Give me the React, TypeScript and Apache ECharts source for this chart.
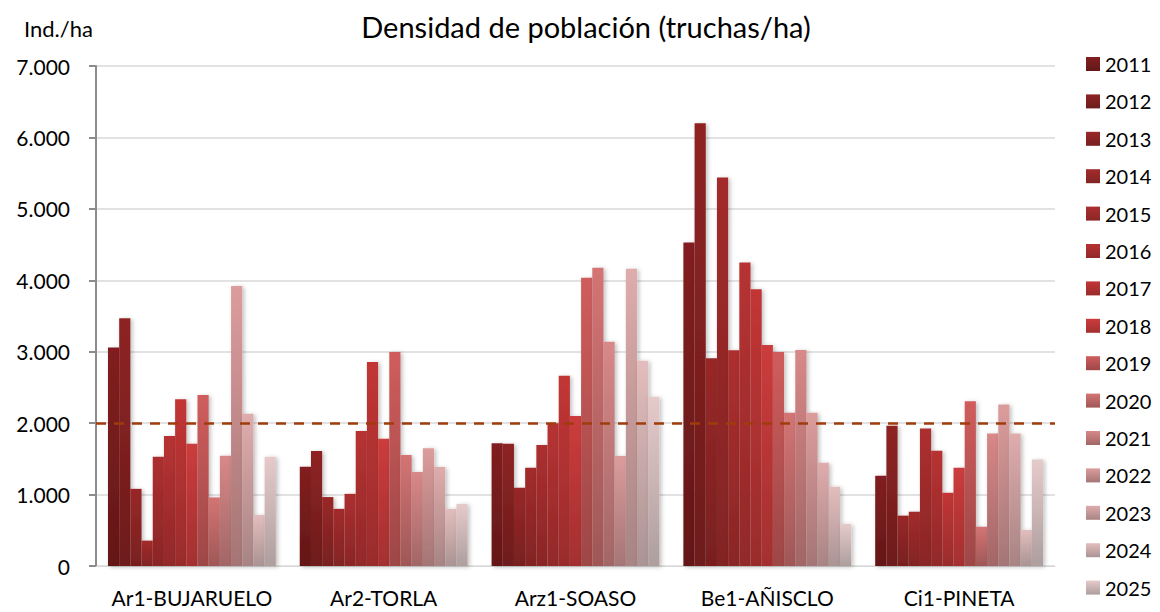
import React, { useEffect, useRef } from "react";
import * as echarts from "echarts";

const categories = ["Ar1-BUJARUELO", "Ar2-TORLA", "Arz1-SOASO", "Be1-AÑISCLO", "Ci1-PINETA"];
const years = ["2011", "2012", "2013", "2014", "2015", "2016", "2017", "2018", "2019", "2020", "2021", "2022", "2023", "2024", "2025"];

// values per year, in category order
const v2011 = [3060, 1390, 1720, 4530, 1265];
const v2012 = [3470, 1610, 1710, 6200, 1965];
const v2013 = [1080, 965, 1095, 2910, 705];
const v2014 = [355, 800, 1375, 5440, 760];
const v2015 = [1530, 1010, 1695, 3020, 1925];
const v2016 = [1820, 1890, 2000, 4250, 1615];
const v2017 = [2335, 2855, 2665, 3875, 1025];
const v2018 = [1710, 1780, 2100, 3095, 1375];
const v2019 = [2395, 2995, 4035, 2995, 2305];
const v2020 = [960, 1555, 4175, 2145, 550];
const v2021 = [1545, 1315, 3140, 3025, 1855];
const v2022 = [3920, 1650, 1540, 2145, 2260];
const v2023 = [2130, 1385, 4160, 1445, 1855];
const v2024 = [715, 800, 2875, 1110, 505];
const v2025 = [1530, 870, 2370, 590, 1490];
const seriesValues = [v2011, v2012, v2013, v2014, v2015, v2016, v2017, v2018, v2019, v2020, v2021, v2022, v2023, v2024, v2025];

const yTicks = { min: 0, max: 7000, interval: 1000 };
const referenceLine = 2000;

const topColors = ["#821f20", "#8e2424", "#992828", "#a32b2b", "#ad2f2f", "#b73232", "#c23535", "#cc3c3c", "#d05d5d", "#d47474", "#d88888", "#dc9c9c", "#dfacac", "#e3bdbd", "#e6caca"];
const bottomColors = ["#641717", "#6e1b1b", "#781f1f", "#822424", "#8a2626", "#922929", "#9a2c2c", "#a42f2f", "#9e4646", "#a05757", "#a26666", "#a57575", "#a88484", "#ab9494", "#ae9e9e"];

const FONT = "Lato, 'Noto Sans', sans-serif";

function fmt(v: number): string {
  return String(v).replace(/\B(?=(\d{3})+(?!\d))/g, ".");
}

export default function App() {
  const ref = useRef<HTMLDivElement>(null);
  useEffect(() => {
    if (!ref.current) return;
    const chart = echarts.init(ref.current, null, { renderer: "svg" });
    const series: any[] = years.map((y, i) => {
      const s: any = {
        name: y,
        type: "bar",
        data: seriesValues[i],
        barGap: "0%",
        barCategoryGap: "12.5%",
        itemStyle: {
          color: new echarts.graphic.LinearGradient(0, 0, 0, 1, [
            { offset: 0, color: topColors[i] },
            { offset: 1, color: bottomColors[i] },
          ]),
          shadowBlur: 4,
          shadowColor: "rgba(0,0,0,0.25)",
          shadowOffsetX: 2,
          shadowOffsetY: 1,
        },
      };
      if (i === 0) {
        s.markLine = {
          silent: true,
          symbol: ["none", "none"],
          label: { show: false },
          lineStyle: { color: "#a03c0c", width: 2.5, type: [10, 8] },
          data: [{ yAxis: referenceLine }],
        };
      }
      return s;
    });
    chart.setOption({
      animation: false,
      backgroundColor: "#ffffff",
      textStyle: { fontFamily: FONT },
      title: {
        text: "Densidad de población (truchas/ha)",
        left: 581,
        textAlign: "center",
        top: 7,
        textStyle: { fontFamily: FONT, fontSize: 29, fontWeight: "normal", color: "#000" },
      },
      graphic: [
        {
          type: "text",
          left: 24,
          top: 17,
          style: { text: "Ind./ha", fontFamily: FONT, fontSize: 22, fill: "#000" },
        },
      ],
      legend: {
        orient: "vertical",
        left: 1081,
        top: 49,
        icon: "rect",
        itemWidth: 14,
        itemHeight: 14,
        itemGap: 17.4,
        textStyle: { fontFamily: FONT, fontSize: 20, color: "#000" },
        data: years,
      },
      grid: { left: 96, right: 105, top: 66, bottom: 46, containLabel: false },
      xAxis: {
        type: "category",
        data: categories,
        axisLine: { show: true, lineStyle: { color: "#d9d9d9", width: 1 } },
        axisTick: { show: false },
        axisLabel: { interval: 0, fontFamily: FONT, fontSize: 21, color: "#000", margin: 21 },
      },
      yAxis: {
        type: "value",
        min: yTicks.min,
        max: yTicks.max,
        interval: yTicks.interval,
        axisLine: { show: true, lineStyle: { color: "#8c8c8c", width: 2 } },
        axisTick: { show: true, length: 7, lineStyle: { color: "#8c8c8c", width: 2 } },
        splitLine: { show: true, lineStyle: { color: "#d9d9d9", width: 1.5 } },
        axisLabel: { fontFamily: FONT, fontSize: 21, color: "#000", margin: 26, formatter: (v: number) => fmt(v) },
      },
      series,
    });
    return () => chart.dispose();
  }, []);
  return <div ref={ref} style={{ position: "fixed", left: 0, top: 0, width: 1160, height: 612 }} />;
}
